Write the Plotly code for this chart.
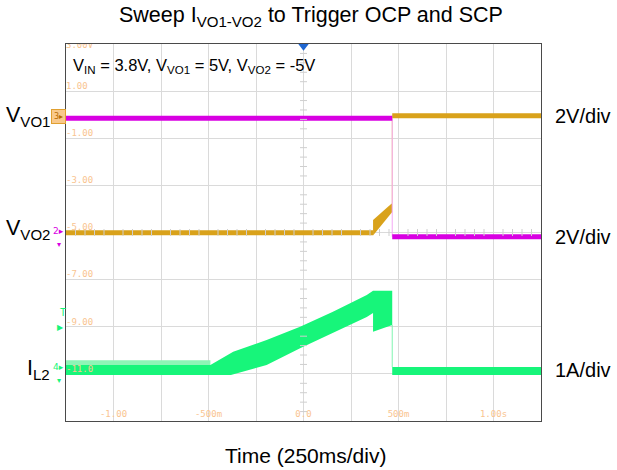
import plotly.graph_objects as go

# ---------------- data (scope screen units: seconds / volts on 2V/div grid) -------------
time_ticks = [-1.0, -0.5, 0.0, 0.5, 1.0]
time_tick_labels = ["-1.00", "-500m", "0.0", "500m", "1.00s"]
volt_ticks = [1, -1, -3, -5, -7, -9, -11]
volt_tick_labels = ["1.00", "-1.00", "-3.00", "-5.00", "-7.00", "-9.00", "-11.0"]
top_label = "3.00V"

# magenta trace
mag_pre_t = [-1.25, 0.467]
mag_pre_v = [-0.15, -0.15]
mag_post_t = [0.467, 1.25]
mag_post_v = [-5.18, -5.18]

# gold trace
gold_pre_t = [-1.25, 0.366]
gold_pre_v = [-5.01, -5.01]
gold_ramp_t = [0.366, 0.467, 0.467, 0.366]
gold_ramp_v = [-4.47, -3.75, -4.13, -5.13]
gold_post_t = [0.467, 1.25]
gold_post_v = [-0.04, -0.04]

# green current envelope (upper edge left->right, lower edge right->left)
il2_t = [-1.25, -0.49, -0.37, -0.194, -0.018, 0.155, 0.333, 0.366, 0.467, 0.467, 1.25,
         1.25, 0.467, 0.467, 0.366, 0.366, 0.333, 0.155, -0.018, -0.194, -0.382, -1.25]
il2_v = [-10.62, -10.62, -10.06, -9.56, -9.00, -8.36, -7.65, -7.47, -7.47, -10.71, -10.71,
         -11.05, -11.05, -8.93, -9.21, -8.42, -8.59, -9.27, -9.91, -10.62, -11.05, -11.05]
il2_fringe_t = [-1.25, -0.49, -0.49, -1.25]
il2_fringe_v = [-10.42, -10.42, -10.65, -10.65]

MAG = "#d800e2"
GOLD = "#d9a21b"
GREEN = "#17f57a"
LBL = "#f9c490"

W, H = 617, 470
L, R, T, B = 66, 541, 44, 421


def px(xp):
    return (xp - L) / (R - L)


def py(yp):
    return (B - yp) / (B - T)


fig = go.Figure()

# green current
fig.add_trace(go.Scatter(x=il2_fringe_t, y=il2_fringe_v, fill="toself", mode="lines",
                         line=dict(width=0), fillcolor="#8df5b6", hoverinfo="skip"))
fig.add_trace(go.Scatter(x=il2_t, y=il2_v, fill="toself", mode="lines",
                         line=dict(width=0), fillcolor=GREEN, hoverinfo="skip"))
fig.add_trace(go.Scatter(x=[il2_t[8], il2_t[8]], y=[il2_v[13], il2_v[9]], mode="lines",
                         line=dict(width=1, color="#80f5b0"), hoverinfo="skip"))

# gold
fig.add_trace(go.Scatter(x=[gold_post_t[0], gold_post_t[0]], y=[gold_ramp_v[1], gold_post_v[0]],
                         mode="lines", line=dict(width=1, color="#efd27a"), hoverinfo="skip"))
fig.add_trace(go.Scatter(x=gold_pre_t, y=gold_pre_v, mode="lines",
                         line=dict(width=5, color=GOLD), hoverinfo="skip"))
fig.add_trace(go.Scatter(x=gold_ramp_t, y=gold_ramp_v, fill="toself", mode="lines",
                         line=dict(width=0), fillcolor=GOLD, hoverinfo="skip"))
fig.add_trace(go.Scatter(x=gold_post_t, y=gold_post_v, mode="lines",
                         line=dict(width=5, color=GOLD), hoverinfo="skip"))

# magenta
fig.add_trace(go.Scatter(x=[mag_post_t[0], mag_post_t[0]], y=[mag_pre_v[0], mag_post_v[0]],
                         mode="lines", line=dict(width=1, color="#f4a8f4"), hoverinfo="skip"))
fig.add_trace(go.Scatter(x=mag_pre_t, y=mag_pre_v, mode="lines",
                         line=dict(width=5, color=MAG), hoverinfo="skip"))
fig.add_trace(go.Scatter(x=mag_post_t, y=mag_post_v, mode="lines",
                         line=dict(width=5, color=MAG), hoverinfo="skip"))

# centre-line minor ticks (graticule decoration)
vt = [-13 + 0.4 * i for i in range(41) if i % 5 != 0]
ht = [-1.25 + 0.05 * i for i in range(51) if i % 5 != 0]
fig.add_trace(go.Scatter(x=[0.0] * len(vt), y=vt, mode="markers",
                         marker=dict(symbol="line-ew", size=5, line=dict(width=1, color="#cfcfcf")),
                         hoverinfo="skip"))
fig.add_trace(go.Scatter(x=ht, y=[-5.0] * len(ht), mode="markers",
                         marker=dict(symbol="line-ns", size=5, line=dict(width=1, color="#cfcfcf")),
                         hoverinfo="skip"))

# scope graticule labels (clipped to the plot area)
mono = dict(family="DejaVu Sans Mono", size=9, color=LBL)
fig.add_trace(go.Scatter(x=[-1.25] * len(volt_ticks), y=[v + 0.19 for v in volt_ticks],
                         text=volt_tick_labels, mode="text", textposition="middle right",
                         textfont=mono, cliponaxis=True, hoverinfo="skip"))
fig.add_trace(go.Scatter(x=[-1.25], y=[2.94], text=[top_label], mode="text",
                         textposition="middle right", textfont=mono, cliponaxis=True, hoverinfo="skip"))
fig.add_trace(go.Scatter(x=time_ticks, y=[-12.75] * len(time_ticks), text=time_tick_labels,
                         mode="text", textposition="middle center", textfont=mono,
                         cliponaxis=True, hoverinfo="skip"))

# trigger position marker
fig.add_trace(go.Scatter(x=[0.0], y=[2.9], mode="markers", cliponaxis=False,
                         marker=dict(symbol="triangle-down", size=9, color="#1f66d0"),
                         hoverinfo="skip"))

fig.update_layout(
    width=W, height=H,
    margin=dict(l=L, r=W - R, t=T, b=H - B),
    paper_bgcolor="white", plot_bgcolor="white",
    showlegend=False,
    xaxis=dict(range=[-1.25, 1.25], tick0=-1.25, dtick=0.25, showgrid=True,
               gridcolor="#dadada", gridwidth=1, zeroline=False, showticklabels=False,
               ticks="", showline=True, linecolor="#4a4a4a", linewidth=1, mirror=True),
    yaxis=dict(range=[-13, 3], tick0=-13, dtick=2, showgrid=True,
               gridcolor="#dadada", gridwidth=1, zeroline=False, showticklabels=False,
               ticks="", showline=True, linecolor="#4a4a4a", linewidth=1, mirror=True),
)

sans = "Liberation Sans, Arial, sans-serif"
ann = []
ann.append(dict(text="Sweep I<sub>VO1-VO2</sub> to Trigger OCP and SCP", x=px(311), y=py(17),
                xref="paper", yref="paper", xanchor="center", yanchor="middle",
                showarrow=False, font=dict(family=sans, size=21.5, color="black")))
ann.append(dict(text="Time (250ms/div)", x=px(305), y=py(455),
                xref="paper", yref="paper", xanchor="center", yanchor="middle",
                showarrow=False, font=dict(family=sans, size=21, color="black")))
ann.append(dict(text="V<sub>IN</sub> = 3.8V, V<sub>VO1</sub> = 5V, V<sub>VO2</sub> = -5V",
                x=px(71), y=py(66), xref="paper", yref="paper", xanchor="left",
                yanchor="middle", showarrow=False,
                font=dict(family=sans, size=16.5, color="black")))
for txt, yy in [("V<sub>VO1</sub>", 117), ("V<sub>VO2</sub>", 229), ("I<sub>L2</sub>", 369)]:
    ann.append(dict(text=txt, x=px(52), y=py(yy), xref="paper", yref="paper",
                    xanchor="right", yanchor="middle", showarrow=False,
                    font=dict(family=sans, size=21.5, color="black")))
for txt, yy in [("2V/div", 116), ("2V/div", 237), ("1A/div", 370)]:
    ann.append(dict(text=txt, x=px(553), y=py(yy), xref="paper", yref="paper",
                    xanchor="left", yanchor="middle", showarrow=False,
                    font=dict(family=sans, size=20, color="black")))

# channel markers on the left edge
ann.append(dict(text="3▸", x=px(66), y=py(116), xref="paper", yref="paper",
                xanchor="right", yanchor="middle", showarrow=False,
                bgcolor="#f9c98c", bordercolor="#e0a030", borderwidth=1, borderpad=2,
                font=dict(family="DejaVu Sans", size=8, color="#b86a00")))
ann.append(dict(text="2▸", x=px(66), y=py(231), xref="paper", yref="paper",
                xanchor="right", yanchor="middle", showarrow=False,
                font=dict(family="DejaVu Sans", size=9, color=MAG)))
ann.append(dict(text="▾", x=px(59), y=py(244), xref="paper", yref="paper",
                xanchor="center", yanchor="middle", showarrow=False,
                font=dict(family="DejaVu Sans", size=8, color=MAG)))
ann.append(dict(text="T", x=px(63), y=py(313), xref="paper", yref="paper",
                xanchor="center", yanchor="middle", showarrow=False,
                font=dict(family="DejaVu Sans Mono", size=10, color=GREEN)))
ann.append(dict(text="▶", x=px(66), y=py(327), xref="paper", yref="paper",
                xanchor="right", yanchor="middle", showarrow=False,
                font=dict(family="DejaVu Sans", size=8, color=GREEN)))
ann.append(dict(text="4▸", x=px(66), y=py(367), xref="paper", yref="paper",
                xanchor="right", yanchor="middle", showarrow=False,
                font=dict(family="DejaVu Sans", size=9, color=GREEN)))
ann.append(dict(text="▾", x=px(59), y=py(380), xref="paper", yref="paper",
                xanchor="center", yanchor="middle", showarrow=False,
                font=dict(family="DejaVu Sans", size=8, color=GREEN)))
fig.update_layout(annotations=ann)

fig.write_html("out.html")
